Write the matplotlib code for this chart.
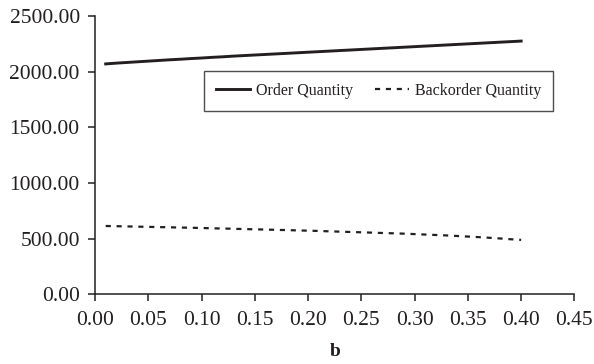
import matplotlib
matplotlib.use("Agg")
import matplotlib.pyplot as plt

# b values and the two quantity series
b_values = [0.01, 0.02, 0.03, 0.04, 0.05, 0.06, 0.07, 0.08, 0.09, 0.10,
            0.11, 0.12, 0.13, 0.14, 0.15, 0.16, 0.17, 0.18, 0.19, 0.20,
            0.21, 0.22, 0.23, 0.24, 0.25, 0.26, 0.27, 0.28, 0.29, 0.30,
            0.31, 0.32, 0.33, 0.34, 0.35, 0.36, 0.37, 0.38, 0.39, 0.40]

order_qty = [2070, 2077, 2083, 2089, 2095, 2101, 2107, 2112, 2118, 2123,
             2129, 2134, 2140, 2145, 2150, 2155, 2160, 2165, 2170, 2175,
             2180, 2185, 2190, 2195, 2200, 2205, 2210, 2215, 2220, 2225,
             2230, 2235, 2240, 2245, 2250, 2255, 2260, 2265, 2270, 2275]

backorder_qty = [615, 613, 611, 609, 607, 605, 603, 601, 599, 597,
                 594, 592, 590, 587, 585, 583, 580, 578, 575, 573,
                 570, 567, 564, 561, 558, 555, 552, 549, 546, 542,
                 538, 534, 530, 525, 520, 515, 509, 503, 496, 490]

x_ticks = [0.00, 0.05, 0.10, 0.15, 0.20, 0.25, 0.30, 0.35, 0.40, 0.45]
y_ticks = [0, 500, 1000, 1500, 2000, 2500]

text_color = '#231f20'
plt.rcParams['font.family'] = ['Liberation Serif', 'DejaVu Serif']

fig = plt.figure(figsize=(5.94, 3.64), dpi=100)
ax = fig.add_axes([0.16, 0.191, 0.807, 0.765])

ax.plot(b_values, order_qty, color=text_color, linewidth=2.1,
        label='Order Quantity')
ax.plot(b_values, backorder_qty, color=text_color, linewidth=1.6,
        dashes=(2.3, 2.6), label='Backorder Quantity')

ax.set_xlim(0, 0.45)
ax.set_ylim(0, 2500)
ax.set_xticks(x_ticks)
ax.set_yticks(y_ticks)
ax.set_xticklabels([f'{v:.2f}' for v in x_ticks])
ax.set_yticklabels([f'{v:.2f}' for v in y_ticks])

for side in ['top', 'right']:
    ax.spines[side].set_visible(False)
for side in ['left', 'bottom']:
    ax.spines[side].set_linewidth(1.1)
    ax.spines[side].set_color(text_color)

ax.tick_params(axis='both', direction='out', length=5, width=1.1,
               color=text_color, labelcolor=text_color, labelsize=15.5)
ax.tick_params(axis='x', pad=7)
ax.tick_params(axis='y', pad=6)

ax.set_xlabel('b', fontsize=14, fontweight='bold', color=text_color,
              labelpad=9)

leg = ax.legend(ncol=2, loc='upper left',
                bbox_to_anchor=(204 / 594, 1 - 71 / 364),
                bbox_transform=fig.transFigure, borderaxespad=0,
                fontsize=11.5, frameon=True, fancybox=False,
                handlelength=2.1, columnspacing=1.4, handletextpad=0.4,
                borderpad=0.75)
leg.get_frame().set_edgecolor(text_color)
leg.get_frame().set_linewidth(1.0)
for t in leg.get_texts():
    t.set_color(text_color)

plt.savefig('out.png', dpi=100)
plt.close()
